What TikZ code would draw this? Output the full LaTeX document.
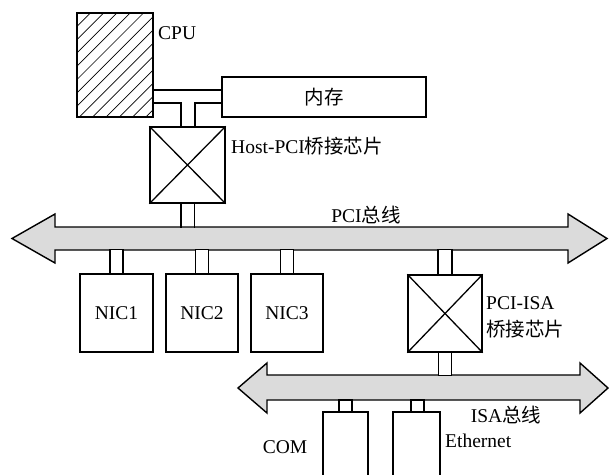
\documentclass[tikz,border=0pt]{standalone}
\usepackage{fontspec}
\setmainfont{Liberation Serif}
\newfontfamily\cjk{Noto Sans CJK SC}
\usetikzlibrary{calc}
\begin{document}
\begin{tikzpicture}[x=1pt,y=-1pt,font=\fontsize{19.5}{22}\selectfont,
  box/.style={draw,line width=1.3pt,inner sep=0pt,fill=white},
  bus/.style={draw,line width=1.4pt,fill=black!14,line join=miter},
  lnk/.style={line width=1.3pt},
  lnkbox/.style={draw,line width=1.3pt,fill=white},
  hatch/.style={line width=0.7pt},
  lbl/.style={inner sep=0pt}]
\useasboundingbox (0,0) rectangle (609,474);

% buses
\draw[bus] (12,238.5) -- (55,214) -- (55,227) -- (568,227) -- (568,214) -- (607,238.5)
  -- (568,263) -- (568,250) -- (55,250) -- (55,263) -- cycle;
\draw[bus] (238,388) -- (267,363) -- (267,375) -- (580,375) -- (580,363) -- (608,388)
  -- (580,413) -- (580,400) -- (267,400) -- (267,413) -- cycle;

% boxes
\node[box,minimum width=76pt,minimum height=104pt] (cpu) at (115,65) {};
\begin{scope}
  \clip (cpu.north west) rectangle (cpu.south east);
  \foreach \k in {0,...,14}
    \draw[hatch] ($(cpu.south west)+(\k*13.3-104,0)$) -- ++(110,-110);
\end{scope}
\draw[line width=1.3pt] (cpu.north west) rectangle (cpu.south east);

\node[box,minimum width=204pt,minimum height=40pt] (mem) at (324,97) {\cjk 内存};
\node[box,minimum width=75pt,minimum height=76pt] (hb) at (187.5,165) {};
\draw[lnk] (hb.north west) -- (hb.south east) (hb.north east) -- (hb.south west);

\node[box,minimum width=73pt,minimum height=78pt] (nic1) at (116.5,313) {NIC1};
\node[box,minimum width=72pt,minimum height=78pt] (nic2) at (202,313) {NIC2};
\node[box,minimum width=72pt,minimum height=78pt] (nic3) at (287,313) {NIC3};

\node[box,minimum width=74pt,minimum height=77pt] (ib) at (445,313.5) {};
\draw[lnk] (ib.north west) -- (ib.south east) (ib.north east) -- (ib.south west);

\coordinate (comtop) at (345.5,412);
\coordinate (ethtop) at (416.5,412);
\draw[lnk] ($(comtop)+(-22.5,64)$) -- ($(comtop)+(-22.5,0)$) -- ($(comtop)+(22.5,0)$) -- ($(comtop)+(22.5,64)$);
\draw[lnk] ($(ethtop)+(-23.5,64)$) -- ($(ethtop)+(-23.5,0)$) -- ($(ethtop)+(23.5,0)$) -- ($(ethtop)+(23.5,64)$);

% connectors
\draw[lnk] (cpu.east |- 0,90) -- (mem.west |- 0,90);
\draw[lnk] (cpu.east |- 0,103) -- (181,103) -- (181,127 |- hb.north);
\draw[lnk] (mem.west |- 0,103) -- (195,103) -- (195,127 |- hb.north);
\draw[lnk] ($(hb.south)+(-6.5,0)$) -- ++(0,24);
\draw[lnk] ($(hb.south)+(7,0)$) -- ++(0,24);

\foreach \n in {nic1,nic2,nic3}
  \draw[lnkbox] ($(\n.north)+(-6.5,0)$) rectangle ($(\n.north)+(6.5,-24)$);
\draw[lnkbox] ($(ib.north)+(-7,0)$) rectangle ($(ib.north)+(7,-25)$);
\draw[lnkbox] ($(ib.south)+(-6.5,0)$) rectangle ($(ib.south)+(6.5,23)$);
\draw[lnkbox] ($(comtop)+(-6.5,0)$) rectangle ($(comtop)+(6.5,-12)$);
\draw[lnkbox] ($(ethtop)+(-5.5,0)$) rectangle ($(ethtop)+(7.5,-12)$);

% labels
\node[lbl,anchor=west] (lcpu) at (158,33) {CPU};
\node[lbl,anchor=west] (lhb) at (231,146) {Host-PCI{\cjk 桥接芯片}};
\node[lbl] (lpci) at (366,215) {PCI{\cjk 总线}};
\node[lbl,anchor=west] (lib1) at (486,303) {PCI-ISA};
\node[lbl,anchor=west] (lib2) at (486,329) {\cjk 桥接芯片};
\node[lbl] (lisa) at (506,415) {ISA{\cjk 总线}};
\node[lbl,anchor=west] (leth) at (445,441) {Ethernet};
\node[lbl] (lcom) at (285,447) {COM};
\end{tikzpicture}
\end{document}
